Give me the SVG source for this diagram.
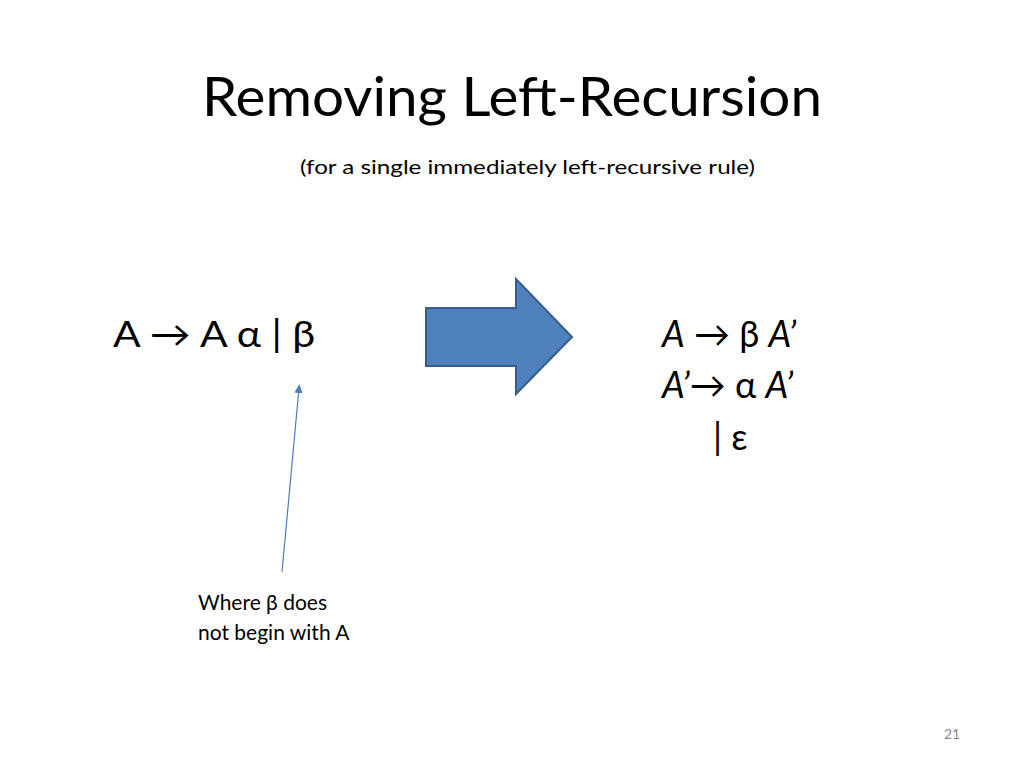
<svg xmlns="http://www.w3.org/2000/svg" width="1024" height="768" viewBox="0 0 1024 768">
<style>
text{font-family:Lato,"Liberation Sans",sans-serif;fill:#000}
.r{font-size:36px}
.i{font-style:italic}
</style>
<defs><marker id="ah" markerWidth="10" markerHeight="10" refX="5" refY="5" orient="auto" markerUnits="userSpaceOnUse"><path d="M0,1 L9,5 L0,9 Z" fill="#4a7ebb"/></marker></defs>
<rect width="1024" height="768" fill="#fff"/>
<g id="title"><text x="202" y="116" font-size="54" textLength="620" lengthAdjust="spacingAndGlyphs">Removing Left-Recursion</text>
<text x="300" y="174" font-size="20" textLength="455" lengthAdjust="spacingAndGlyphs">(for a single immediately left-recursive rule)</text></g>
<g id="left"><text class="r" x="113" y="347" textLength="202" lengthAdjust="spacingAndGlyphs">A → A α | β</text></g>
<g id="bigarrow"><path d="M426,308 H516 V279 L572,337 L516,394 V366 H426 Z" fill="#4f81bd" stroke="#385d8a" stroke-width="2"/></g>
<g id="right">
<text class="r" x="662" y="347"><tspan class="i">A</tspan> → β <tspan class="i">A’</tspan></text>
<text class="r" x="662" y="398"><tspan class="i">A’</tspan>→ α <tspan class="i">A’</tspan></text>
<text class="r" x="713" y="450">|  ε</text>
</g>
<g id="note"><text x="198" y="610" font-size="21">Where β does</text><text x="198" y="640" font-size="21">not begin with A</text></g>
<g id="connectors"><line x1="282" y1="572" x2="299" y2="388" stroke="#4a7ebb" stroke-width="1.2" marker-end="url(#ah)"/></g>
<text x="944" y="739" font-size="14" fill="#888" style="fill:#888">21</text>
</svg>
